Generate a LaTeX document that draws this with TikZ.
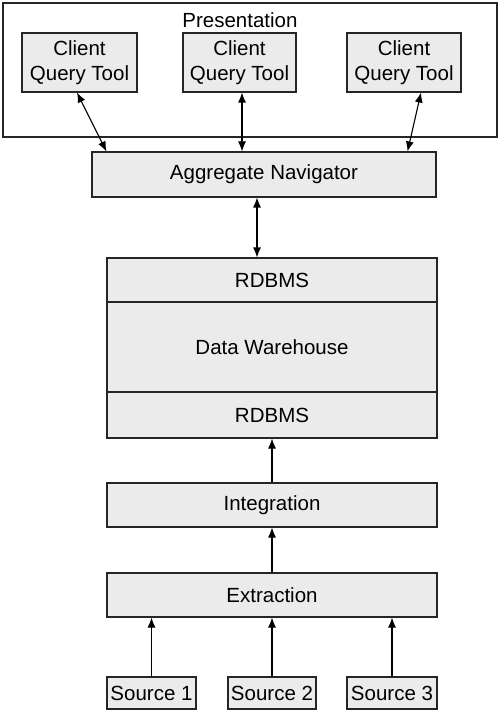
\documentclass[tikz,border=0pt]{standalone}
\usepackage{fontspec}
\setmainfont{Liberation Sans}
\usetikzlibrary{arrows.meta, positioning, calc}
\definecolor{boxgray}{RGB}{235,235,235}

\begin{document}
\begin{tikzpicture}[
    x=1pt, y=-1pt,
    every node/.style={font=\fontsize{20.5}{24.5}\selectfont},
    box/.style={rectangle, draw=black!85, fill=boxgray, line width=1.1pt,
                align=center, inner sep=0pt},
    frame/.style={rectangle, draw=black!85, line width=1.1pt, inner sep=0pt},
    arr/.style={-{Latex[length=10pt, width=8pt]}, line width=1.1pt},
    darr/.style={{Latex[length=10pt, width=8pt]}-{Latex[length=10pt, width=8pt]}, line width=1.1pt}
  ]
  \useasboundingbox (0,0) rectangle (500,711);

  \node[frame, minimum width=494pt, minimum height=134pt] (pres) at (250,70) {};
  \node (prestxt) at (240,20) {Presentation};

  \node[box, minimum width=115pt, minimum height=59pt] (cqt1) at (79.5,62.5)
        {Client\\Query Tool};
  \node[box, minimum width=113pt, minimum height=59pt] (cqt2) at (239.5,62.5)
        {Client\\Query Tool};
  \node[box, minimum width=114pt, minimum height=59pt] (cqt3) at (404,62.5)
        {Client\\Query Tool};

  \node[box, minimum width=344pt, minimum height=45pt] (agg) at (264,174.5)
        {Aggregate Navigator};

  \node[box, minimum width=330pt, minimum height=44pt] (rtop) at (272,280) {RDBMS};
  \node[box, minimum width=330pt, minimum height=90pt] (dw)   at (272,347) {Data Warehouse};
  \node[box, minimum width=330pt, minimum height=46pt] (rbot) at (272,415) {RDBMS};

  \node[box, minimum width=330pt, minimum height=44pt] (integ) at (272,505) {Integration};
  \node[box, minimum width=330pt, minimum height=44pt] (extr)  at (272,595) {Extraction};

  \node[box, minimum width=89pt, minimum height=32pt] (src1) at (151.5,693) {Source 1};
  \node[box, minimum width=88pt, minimum height=32pt] (src2) at (272,693)   {Source 2};
  \node[box, minimum width=90pt, minimum height=32pt] (src3) at (392,693)   {Source 3};

  \draw[darr] ([xshift=-2.5pt]cqt1.south) -- ([xshift=15pt]agg.north west);
  \draw[darr] ([xshift=2.5pt]cqt2.south) -- ([xshift=2.5pt]cqt2.south |- agg.north);
  \draw[darr] ([xshift=17pt]cqt3.south) -- ([xshift=-29pt]agg.north east);
  \draw[darr] ([xshift=-7pt]agg.south) -- ([xshift=-7pt]agg.south |- rtop.north);
  \draw[arr] (integ) -- (rbot);
  \draw[arr] (extr) -- (integ);
  \draw[arr] (src1) -- (src1 |- extr.south);
  \draw[arr] (src2) -- (src2 |- extr.south);
  \draw[arr] (src3) -- (src3 |- extr.south);
\end{tikzpicture}
\end{document}
